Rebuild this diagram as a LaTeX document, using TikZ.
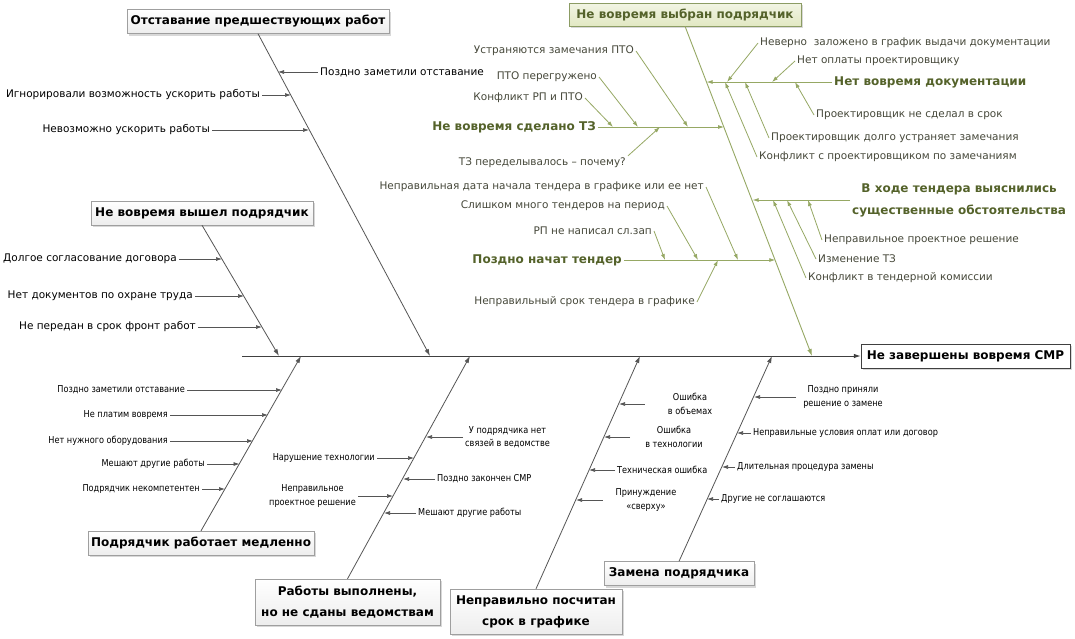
\documentclass[tikz,border=0pt]{standalone}
\usepackage{fontspec}
\setmainfont{DejaVu Sans}
\newfontfamily\condfont[FakeStretch=0.86]{DejaVu Sans}
\usetikzlibrary{arrows.meta,shadows}
\definecolor{spineGray}{RGB}{64,64,64}
\definecolor{boneGray}{RGB}{85,85,85}
\definecolor{oliveLine}{RGB}{150,168,100}
\definecolor{oliveText}{RGB}{84,98,42}
\definecolor{oliveDark}{RGB}{70,72,58}
\definecolor{oliveFill}{RGB}{226,232,195}
\definecolor{oliveEdge}{RGB}{140,156,100}
\tikzset{
  spine/.style={draw=spineGray,line width=1pt,-{Latex[length=7pt,width=4.5pt]}},
  bone/.style={draw=boneGray,line width=.8pt,-{Latex[length=7pt,width=4.5pt]}},
  cause/.style={draw=boneGray,line width=.7pt,-{Latex[length=6pt,width=4pt]}},
  gbone/.style={draw=oliveLine,line width=.9pt,-{Latex[length=7pt,width=4.5pt]}},
  gcause/.style={draw=oliveLine,line width=.8pt,-{Latex[length=6pt,width=4pt]}},
  lab/.style={inner sep=2pt,font=\fontsize{10.5}{12}\selectfont,text=black},
  slab/.style={inner sep=2pt,font=\condfont\fontsize{9.5}{13.5}\selectfont,text=black,align=center},
  glab/.style={inner sep=2pt,font=\fontsize{10.5}{12}\selectfont,text=oliveDark},
  gtitle/.style={inner sep=2pt,font=\bfseries\fontsize{12}{22}\selectfont,text=oliveText,align=center},
  catbox/.style={draw=gray!75,top color=white,bottom color=gray!14,inner sep=2pt,minimum height=24,
    font=\bfseries\fontsize{12}{21}\selectfont,align=center,
    drop shadow={shadow xshift=2pt,shadow yshift=-2pt,opacity=.3,fill=gray}},
  greenbox/.style={catbox,draw=oliveEdge,top color=oliveFill!45,bottom color=oliveFill,text=oliveText},
  effbox/.style={catbox,draw=spineGray,top color=white,bottom color=white},
}
\begin{document}
\begin{tikzpicture}[x=1pt,y=-1pt]
\useasboundingbox[fill=white] (0,0) rectangle (1075,638);

% effect and spine
\node[effbox,minimum width=209] (eff) at (965.5,356) {Не завершены вовремя СМР};
\coordinate (tail) at (242,356);
\draw[spine] (tail) -- (eff.west);

% category boxes
\node[catbox,minimum width=262] (cat1) at (258,21.5) {Отставание предшествующих работ};
\node[catbox,minimum width=222] (cat2) at (202,213) {Не вовремя вышел подрядчик};
\node[greenbox,minimum width=232,minimum height=23] (cat3) at (685,14.5) {Не вовремя выбран подрядчик};
\node[catbox,minimum width=226] (cat4) at (201,543) {Подрядчик работает медленно};
\node[catbox,minimum width=185,minimum height=46] (cat5) at (347.5,602) {Работы выполнены,\\но не сданы ведомствам};
\node[catbox,minimum width=172,minimum height=45] (cat6) at (536,611.5) {Неправильно посчитан\\срок в графике};
\node[catbox,minimum width=150] (cat7) at (679,573.5) {Замена подрядчика};

% joints on the spine
\coordinate (j1) at (430,356);
\coordinate (j2) at (279,356);
\coordinate (j3) at (812,356);
\coordinate (j4) at (301,356);
\coordinate (j5) at (470,356);
\coordinate (j6) at (640,356);
\coordinate (j7) at (772,356);
\draw[bone] (cat1.south) -- (j1);
\draw[bone] (cat2.south) -- (j2);
\draw[gbone] (cat3.south) -- (j3);
\draw[bone] (cat4.north) -- (j4);
\draw[bone] (cat5.north) -- (j5);
\draw[bone] (cat6.north) -- (j6);
\draw[bone] (cat7.north) -- (j7);

% Отставание предшествующих работ
\node[lab,anchor=west] (c1a) at (318,72) {Поздно заметили отставание};
\node[lab,anchor=east] (c1b) at (262,95) {Игнорировали возможность ускорить работы};
\node[lab,anchor=east] (c1c) at (212,130) {Невозможно ускорить работы};
\coordinate (t1a) at (278,72);
\coordinate (t1b) at (291,95);
\coordinate (t1c) at (309,130);
\draw[cause] (c1a) -- (t1a);
\draw[cause] (c1b) -- (t1b);
\draw[cause] (c1c) -- (t1c);

% Не вовремя вышел подрядчик
\node[lab,anchor=east] (c2a) at (179,259) {Долгое согласование договора};
\node[lab,anchor=east] (c2b) at (195,296) {Нет документов по охране труда};
\node[lab,anchor=east] (c2c) at (198,327) {Не передан в срок фронт работ};
\coordinate (t2a) at (222,259);
\coordinate (t2b) at (244,296);
\coordinate (t2c) at (262,327);
\draw[cause] (c2a) -- (t2a);
\draw[cause] (c2b) -- (t2b);
\draw[cause] (c2c) -- (t2c);

% Не вовремя выбран подрядчик
\node[gtitle,anchor=east] (g1) at (598,127) {Не вовремя сделано ТЗ};
\node[gtitle,anchor=west] (g2) at (832,82) {Нет вовремя документации};
\node[gtitle,anchor=west] (g3) at (850,200) {В ходе тендера выяснились\\существенные обстоятельства};
\node[gtitle,anchor=east] (g4) at (624,260) {Поздно начат тендер};
\coordinate (s1) at (724,127);
\coordinate (s2) at (706.6,82);
\coordinate (s3) at (752.6,200);
\coordinate (s4) at (775.3,260);
\draw[gcause] (g1) -- (s1);
\draw[gcause] (g2) -- (s2);
\draw[gcause] (g3.west) -- (s3);
\draw[gcause] (g4) -- (s4);

% Не вовремя сделано ТЗ
\node[glab,anchor=east] (g1a) at (636,51) {Устраняются замечания ПТО};
\node[glab,anchor=east] (g1b) at (599,77) {ПТО перегружено};
\node[glab,anchor=east] (g1c) at (585,98) {Конфликт РП и ПТО};
\node[glab,anchor=east] (g1d) at (628,163) {ТЗ переделывалось – почему?};
\draw[gcause] (g1a.east) -- (688,127);
\draw[gcause] (g1b.east) -- (638,127);
\draw[gcause] (g1c.east) -- (613,127);
\draw[gcause] (g1d.north east) -- (660,127);

% Нет вовремя документации
\node[glab,anchor=west] (g2a) at (758,43) {Неверно~ заложено в график выдачи документации};
\node[glab,anchor=west] (g2b) at (795,61) {Нет оплаты проектировщику};
\node[glab,anchor=west] (g2c) at (814,115) {Проектировщик не сделал в срок};
\node[glab,anchor=west] (g2d) at (769,138) {Проектировщик долго устраняет замечания};
\node[glab,anchor=west] (g2e) at (757,157) {Конфликт с проектировщиком по замечаниям};
\draw[gcause] (g2a.west) -- (727,82);
\draw[gcause] (g2b.west) -- (772,82);
\draw[gcause] (g2c.west) -- (795,82);
\draw[gcause] (g2d.west) -- (745,82);
\draw[gcause] (g2e.west) -- (725,82);

% В ходе тендера выяснились существенные обстоятельства
\node[glab,anchor=west] (g3a) at (822,240) {Неправильное проектное решение};
\node[glab,anchor=west] (g3b) at (816,259) {Изменение ТЗ};
\node[glab,anchor=west] (g3c) at (806,278) {Конфликт в тендерной комиссии};
\draw[gcause] (g3a.west) -- (808,200);
\draw[gcause] (g3b.west) -- (787,200);
\draw[gcause] (g3c.west) -- (773,200);

% Поздно начат тендер
\node[glab,anchor=east] (g4a) at (706,187) {Неправильная дата начала тендера в графике или ее нет};
\node[glab,anchor=east] (g4b) at (667,206) {Слишком много тендеров на период};
\node[glab,anchor=east] (g4c) at (654,231) {РП не написал сл.зап};
\node[glab,anchor=east] (g4d) at (697,302) {Неправильный срок тендера в графике};
\draw[gcause] (g4a.east) -- (738,260);
\draw[gcause] (g4b.east) -- (698,260);
\draw[gcause] (g4c.east) -- (665,260);
\draw[gcause] (g4d.east) -- (718,260);

% Подрядчик работает медленно
\node[slab,anchor=east] (c4a) at (187,390) {Поздно заметили отставание};
\node[slab,anchor=east] (c4b) at (170,415) {Не платим вовремя};
\node[slab,anchor=east] (c4c) at (170,441) {Нет нужного оборудования};
\node[slab,anchor=east] (c4d) at (207,464) {Мешают другие работы};
\node[slab,anchor=east] (c4e) at (202,489) {Подрядчик некомпетентен};
\draw[cause] (c4a) -- (282,390);
\draw[cause] (c4b) -- (268,415);
\draw[cause] (c4c) -- (253,441);
\draw[cause] (c4d) -- (239.5,464);
\draw[cause] (c4e) -- (225,489);

% Работы выполнены, но не сданы ведомствам
\node[slab,anchor=west] (c5a) at (463,437) {У подрядчика нет\\связей в ведомстве};
\node[slab,anchor=east] (c5b) at (377,458) {Нарушение технологии};
\node[slab,anchor=west] (c5c) at (435,479) {Поздно закончен СМР};
\node[slab,anchor=east] (c5d) at (358,496) {Неправильное\\проектное решение};
\node[slab,anchor=west] (c5e) at (416,513) {Мешают другие работы};
\draw[cause] (c5a) -- (426,437);
\draw[cause] (c5b) -- (414,458);
\draw[cause] (c5c) -- (403,479);
\draw[cause] (c5d) -- (393,496);
\draw[cause] (c5e) -- (384,513);

% Неправильно посчитан срок в графике
\node[slab] (c6a) at (690,404) {Ошибка\\в объемах};
\node[slab] (c6b) at (674,437) {Ошибка\\в технологии};
\node[slab,anchor=west] (c6c) at (615,470) {Техническая ошибка};
\node[slab] (c6d) at (646,500) {Принуждение\\«сверху»};
\draw[cause] ([xshift=-21pt]c6a.west) -- (619,404);
\draw[cause] ([xshift=-13pt]c6b.west) -- (604,437);
\draw[cause] (c6c) -- (589,470);
\draw[cause] ([xshift=-11pt]c6d.west) -- (576,500);

% Замена подрядчика
\node[slab] (c7a) at (843,397) {Поздно приняли\\решение о замене};
\node[slab,anchor=west] (c7b) at (751,433) {Неправильные условия оплат или договор};
\node[slab,anchor=west] (c7c) at (735,467) {Длительная процедура замены};
\node[slab,anchor=west] (c7d) at (719,499) {Другие не соглашаются};
\draw[cause] ([xshift=-5pt]c7a.west) -- (754,397);
\draw[cause] (c7b) -- (737,433);
\draw[cause] (c7c) -- (722,467);
\draw[cause] (c7d) -- (707,499);
\end{tikzpicture}
\end{document}
